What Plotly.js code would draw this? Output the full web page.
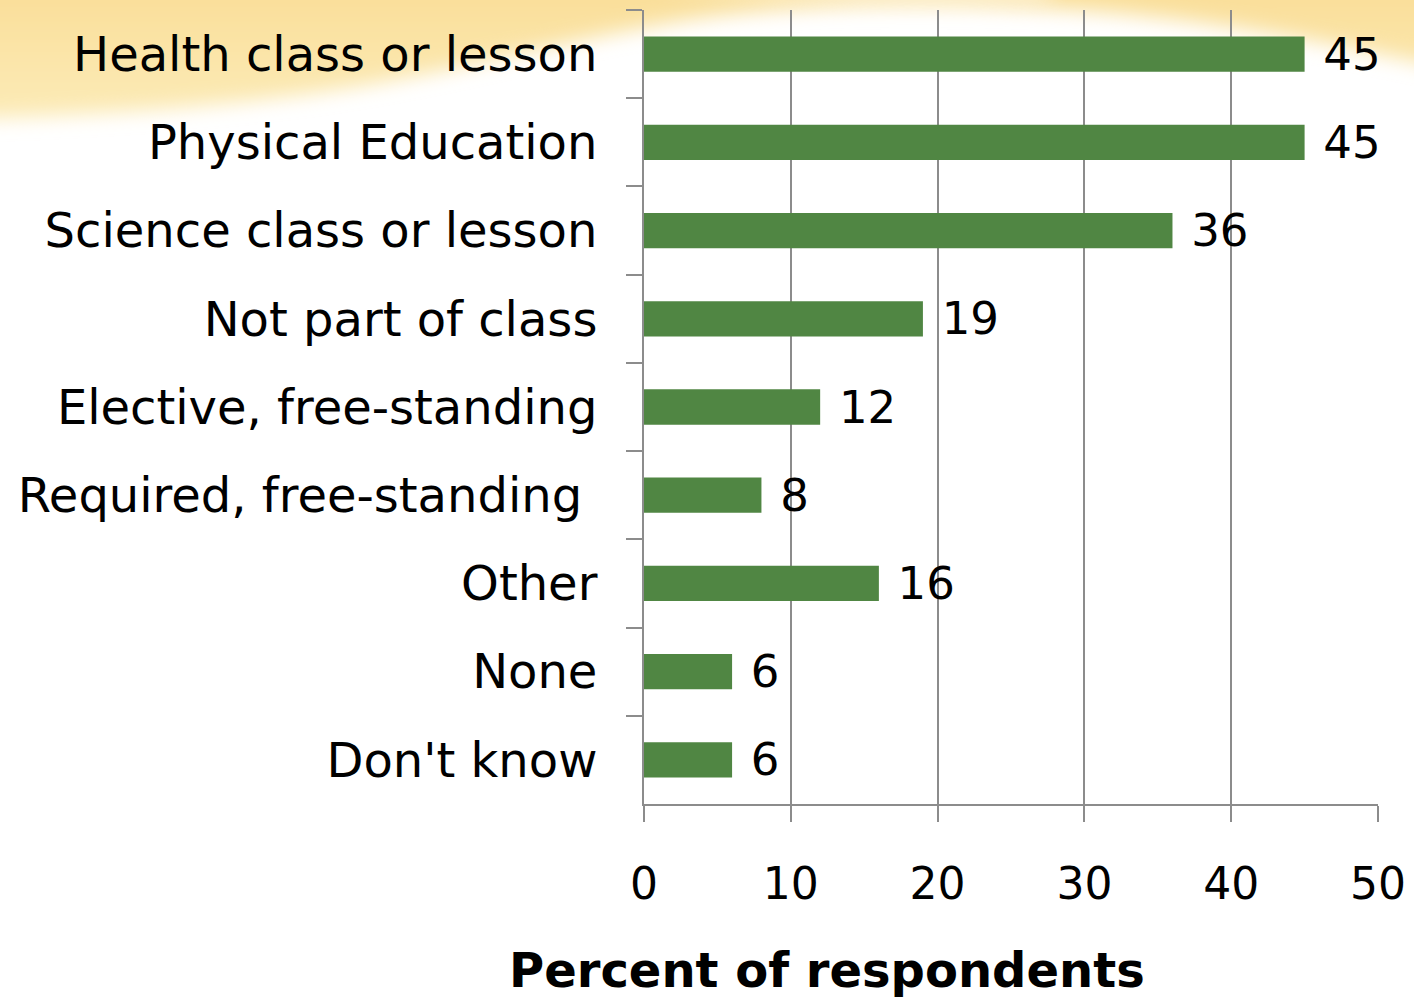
<!DOCTYPE html>
<html>
<head>
<meta charset="utf-8">
<script src="https://cdn.plot.ly/plotly-3.0.1.min.js"></script>
<style>
  html, body { margin: 0; padding: 0; background: #ffffff; }
  #chart { width: 1414px; height: 997px; }
</style>
</head>
<body>
<div id="chart"></div>
<script>
// ---- data ----
const categories = [
  "Health class or lesson",
  "Physical Education",
  "Science class or lesson",
  "Not part of class",
  "Elective, free-standing",
  "Required, free-standing\u00a0",
  "Other",
  "None",
  "Don't know"
];
const percents = [45, 45, 36, 19, 12, 8, 16, 6, 6];
const xTickValues = [0, 10, 20, 30, 40, 50];
const xTitle = "Percent of respondents";

// ---- decorative background swoosh ----
const svgBg = "<svg xmlns='http://www.w3.org/2000/svg' width='1414' height='997'>" +
  "<defs><filter id='b' x='-0.2' y='-0.5' width='1.4' height='2'><feGaussianBlur stdDeviation='10'/></filter>" +
  "<linearGradient id='g' x1='0' y1='0' x2='0' y2='1'><stop offset='0' stop-color='#f8d98c'/><stop offset='1' stop-color='#fcebb8'/></linearGradient></defs>" +
  "<path d='M-60,-60 L1480,-60 L1480,75 C1380,55 1260,25 1100,12 C950,2 820,2 700,18 C560,40 450,75 300,95 C200,108 100,115 -60,120 Z' fill='url(#g)' filter='url(#b)'/>" +
  "<path d='M640,-20 C760,0 900,5 1050,0 L1050,-20 Z' fill='#ffffff' opacity='0.5' filter='url(#b)'/>" +
  "</svg>";
document.getElementById('chart').style.background =
  "url(\"data:image/svg+xml;charset=utf-8," + encodeURIComponent(svgBg) + "\") no-repeat";

const font = "DejaVu Sans, Verdana, sans-serif";
const gray = "#8c8c8c";

const trace = {
  type: "bar",
  orientation: "h",
  y: categories,
  x: percents,
  marker: { color: "#508643", line: { width: 0 } },
  text: percents.map(v => "\u2005\u200a" + v),
  textposition: "outside",
  textfont: { family: font, size: 45, color: "#000000" },
  constraintext: "none",
  cliponaxis: false,
  hoverinfo: "none"
};

const layout = {
  width: 1414,
  height: 997,
  margin: { l: 644, r: 36, t: 10, b: 193 },
  paper_bgcolor: "rgba(0,0,0,0)",
  plot_bgcolor: "rgba(0,0,0,0)",
  bargap: 0.6,
  showlegend: false,
  font: { family: font, color: "#000000" },
  xaxis: {
    range: [0, 50],
    tickvals: xTickValues,
    ticktext: xTickValues.map(String),
    showgrid: true,
    gridcolor: gray,
    gridwidth: 2,
    zeroline: false,
    showline: true,
    linecolor: gray,
    linewidth: 2,
    ticks: "outside",
    ticklen: 16,
    tickwidth: 2,
    tickcolor: gray,
    ticklabelstandoff: 24,
    tickfont: { family: font, size: 44, color: "#000000" },
    fixedrange: true
  },
  yaxis: {
    type: "category",
    autorange: "reversed",
    showgrid: false,
    zeroline: false,
    showline: true,
    linecolor: gray,
    linewidth: 2,
    ticks: "outside",
    tickson: "boundaries",
    ticklen: 16,
    tickwidth: 2,
    tickcolor: gray,
    ticklabelstandoff: 35,
    tickfont: { family: font, size: 48, color: "#000000" },
    fixedrange: true
  },
  annotations: [{
    text: "<b>" + xTitle + "</b>",
    xref: "paper", yref: "paper",
    x: 0.2493, y: -0.209,
    xanchor: "center", yanchor: "middle",
    showarrow: false,
    font: { family: font, size: 48, color: "#000000" }
  }]
};

Plotly.newPlot("chart", [trace], layout, { staticPlot: true, displayModeBar: false });
</script>
</body>
</html>
